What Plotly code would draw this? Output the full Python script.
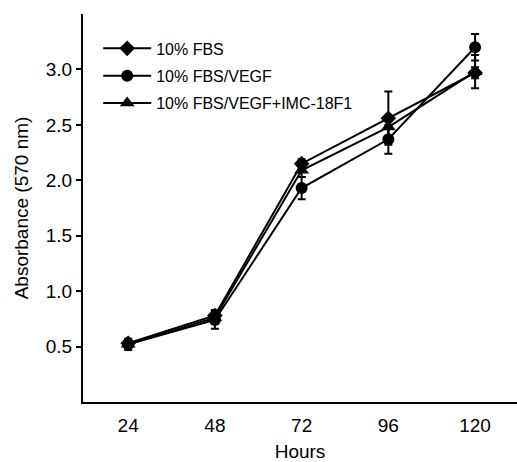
import plotly.graph_objects as go

hours = [24, 48, 72, 96, 120]
series_names = ["10% FBS", "10% FBS/VEGF", "10% FBS/VEGF+IMC-18F1"]
fbs = [0.53, 0.78, 2.15, 2.56, 2.97]
fbs_err = [0.03, 0.05, 0.04, 0.24, 0.05]
fbs_vegf = [0.52, 0.74, 1.93, 2.37, 3.20]
fbs_vegf_err = [0.03, 0.08, 0.10, 0.13, 0.12]
fbs_vegf_imc = [0.52, 0.76, 2.09, 2.48, 2.98]
fbs_vegf_imc_err = [0.05, 0.05, 0.06, 0.08, 0.15]
y_ticks = [0.5, 1.0, 1.5, 2.0, 2.5, 3.0]

symbols = ["diamond", "circle", "triangle-up"]
sizes = [12, 12, 13]
values = [fbs, fbs_vegf, fbs_vegf_imc]
errors = [fbs_err, fbs_vegf_err, fbs_vegf_imc_err]

FONT = "Liberation Sans, Arial, Helvetica, sans-serif"

fig = go.Figure()
for i, (name, vals, errs) in enumerate(zip(series_names, values, errors)):
    fig.add_trace(go.Scatter(
        x=hours, y=vals, name=name, mode="lines+markers",
        legendgroup=f"g{i}",
        line=dict(color="black", width=2),
        marker=dict(symbol=symbols[i], size=sizes[i], color="black"),
        error_y=dict(type="data", array=errs, visible=True,
                     color="black", thickness=2, width=4),
    ))

fig.update_layout(
    width=517, height=462,
    margin=dict(l=83, r=0, t=14, b=55),
    paper_bgcolor="white", plot_bgcolor="white",
    font=dict(family=FONT, color="black", size=19),
    showlegend=True,
    legend=dict(
        x=0.035, y=0.955, xanchor="left", yanchor="top",
        bgcolor="rgba(0,0,0,0)", borderwidth=0,
        font=dict(family=FONT, size=16, color="black"),
        itemwidth=48, tracegroupgap=3.5,
    ),
    xaxis=dict(
        range=[11.5, 131.6], tickvals=hours,
        showline=True, linecolor="black", linewidth=2,
        showgrid=False, zeroline=False,
        ticks="outside", ticklen=5, tickcolor="rgba(0,0,0,0)",
        tickfont=dict(size=19),
        title=dict(text="Hours", font=dict(size=19), standoff=13),
    ),
    yaxis=dict(
        range=[0, 3.5], tickvals=y_ticks, tickformat=".1f",
        showline=True, linecolor="black", linewidth=2,
        showgrid=False, zeroline=False,
        ticks="outside", ticklen=5, tickwidth=2, tickcolor="black",
        tickfont=dict(size=19),
        title=dict(text="Absorbance (570 nm)", font=dict(size=19), standoff=12),
    ),
)

fig.write_html("out.html", config={"displayModeBar": False})

# remove the default page margin so the figure sits at the window's corner
with open("out.html", "r", encoding="utf-8") as f:
    html = f.read()
html = html.replace("<body>", '<body style="margin:0;overflow:hidden">', 1)
with open("out.html", "w", encoding="utf-8") as f:
    f.write(html)
